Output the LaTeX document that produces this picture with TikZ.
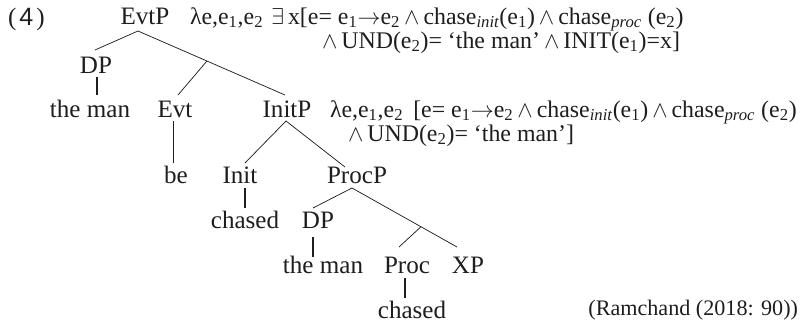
\documentclass[tikz,border=0pt]{standalone}
\usepackage{fontspec}
\setmainfont{Liberation Serif}
\setsansfont{Liberation Sans}
\usetikzlibrary{calc}
\definecolor{ink}{HTML}{1E1E1E}
\tikzset{
  lbl/.style={anchor=base, inner sep=0pt, outer sep=0pt, text=ink, font=\fontsize{18.8}{22}\selectfont},
  frm/.style={lbl, anchor=base west, font=\fontsize{17.9}{21}\selectfont},
  lblw/.style={lbl, anchor=base west},
  lble/.style={lbl, anchor=base east, font=\fontsize{16.6}{20}\selectfont},
  branch/.style={draw=ink, line width=0.55pt},
  unary/.style={draw=ink, line width=1.1pt},
}
\newcommand{\sbx}[1]{\textsubscript{#1}}
\newcommand{\sbi}[1]{\textsubscript{\itshape #1}}
\begin{document}
\begin{tikzpicture}[x=0.75pt,y=-0.75pt]
\useasboundingbox (0,0) rectangle (804,322);
% labels
\node[lblw] (ex) at (8,25) {(\hspace{0.12em}\textsf{4}\hspace{0.12em})};
\node[lbl] (EvtP) at (145,24) {EvtP};
\node[lbl] (DPa) at (96,73) {DP};
\node[lbl] (mana) at (90,117) {the man};
\node[lbl] (Evt) at (175,117) {Evt};
\node[lbl] (InitP) at (287,117) {InitP};
\node[lbl] (be) at (176,183) {be};
\node[lbl] (Init) at (240,183) {Init};
\node[lbl] (ProcP) at (357,183) {ProcP};
\node[lbl] (chaseda) at (245,228) {chased};
\node[lbl] (DPb) at (318,228) {DP};
\node[lbl] (manb) at (323,273) {the man};
\node[lbl] (Proc) at (407,273) {Proc};
\node[lbl] (XP) at (468,273) {XP};
\node[lbl] (chasedb) at (412,318) {chased};
% formulas
\node[frm] (fa) at (190,24) {λe,e\sbx{1},e\sbx{2}\,\,$\exists$\,x[e= e\sbx{1}$\rightarrow$e\sbx{2}\,$\wedge$\,chase\sbi{init}(e\sbx{1})\,$\wedge$\,chase\sbi{proc} (e\sbx{2})};
\node[frm] (fb) at (322,48) {$\wedge$\,UND(e\sbx{2})= ‘the man’\,$\wedge$\,INIT(e\sbx{1})=x]};
\node[frm] (ga) at (330,117) {λe,e\sbx{1},e\sbx{2}\, [e= e\sbx{1}$\rightarrow$e\sbx{2}\,$\wedge$\,chase\sbi{init}(e\sbx{1})\,$\wedge$\,chase\sbi{proc} (e\sbx{2})};
\node[frm] (gb) at (348,141) {$\wedge$\,UND(e\sbx{2})= ‘the man’]};
\node[lble] (src) at (798,315) {(Ramchand (2018: 90))};
% tree connectors
\coordinate (a1) at ($(EvtP.base)+(-7,7)$);
\coordinate (b1) at ($(InitP.base)+(-2,-22)$);
\coordinate (j1) at ($(a1)!0.469!(b1)$);
\draw[branch] ($(DPa.base)+(-1,-23)$) -- (a1) -- (b1);
\draw[branch] (j1) -- ($(Evt.base)+(3,-22)$);
\draw[unary] ($(DPa.base)+(1,4)$) -- ($(mana.base)+(7,-22)$);
\draw[branch] ($(Evt.base)+(-2,4)$) -- ($(be.base)+(-3,-20)$);
\coordinate (a2) at ($(InitP.base)+(-1,4)$);
\draw[branch] ($(Init.base)+(5,-20)$) -- (a2) -- ($(ProcP.base)+(-12,-16)$);
\draw[unary] ($(Init.base)+(5,5)$) -- ($(chaseda.base)+(0,-20)$);
\coordinate (a3) at ($(ProcP.base)+(-5,5)$);
\coordinate (b3) at ($(XP.base)+(-11,-26)$);
\coordinate (j3) at ($(a3)!0.657!(b3)$);
\draw[branch] ($(DPb.base)+(-5,-20)$) -- (a3) -- (b3);
\draw[branch] (j3) -- ($(Proc.base)+(-8,-26)$);
\draw[unary] ($(DPb.base)+(-5,9)$) -- ($(manb.base)+(-10,-16)$);
\draw[unary] ($(Proc.base)+(-2,5)$) -- ($(chasedb.base)+(-7,-20)$);
\end{tikzpicture}
\end{document}
